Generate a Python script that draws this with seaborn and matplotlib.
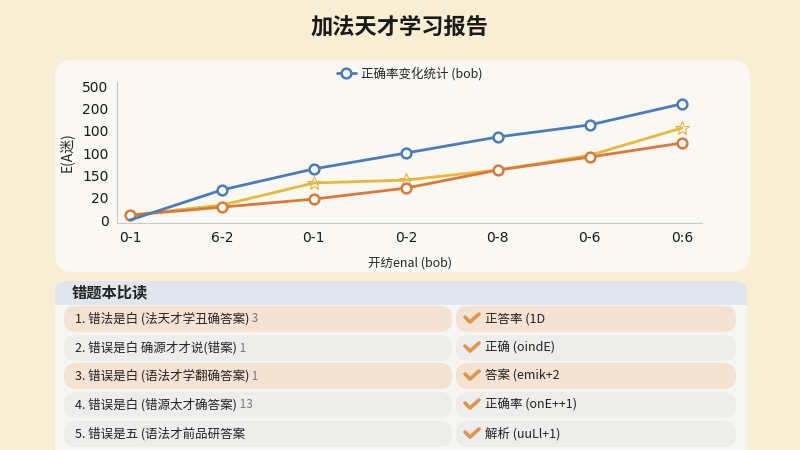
import seaborn as sns
import matplotlib.pyplot as plt
from matplotlib.patches import FancyBboxPatch

sns.set_style('white')
plt.rcParams['font.family'] = ['Noto Sans CJK SC', 'DejaVu Sans']

# chart data (values in y-tick units, as drawn)
x_labels = ['0-1', '6-2', '0-1', '0-2', '0-8', '0-6', '0:6']
y_labels = ['0', '20', '150', '100', '100', '200', '500']
blue_vals = [0.0, 1.35, 2.29, 3.0, 3.72, 4.26, 5.2]
yellow_vals = [0.22, 0.67, 1.66, 1.79, 2.24, 2.9, 4.12]
orange_vals = [0.22, 0.58, 0.94, 1.43, 2.24, 2.82, 3.45]

title = '加法天才学习报告'
legend_label = '正确率变化统计 (bob)'
x_title = '开纺enal (bob)'
y_title = 'E(A迷)'

list_title = '错题本比读'
left_items = ['1. 错法是白 (法天才学丑确答案)', '2. 错误是白 确源才才说(错案)',
              '3. 错误是白 (语法才学翻确答案)', '4. 错误是白 (错源太才确答案)',
              '5. 错误是五 (语法才前品研答案']
left_counts = ['3', '1', '1', '13', '']
right_items = ['正答率 (1D', '正确 (oindE)', '答案 (emik+2', '正确率 (onE++1)', '解析 (uuLl+1)']

fig = plt.figure(figsize=(8, 4.5), dpi=100)
fig.patch.set_facecolor('#f7eed3')

# background layer in pixel coordinates
bg = fig.add_axes([0, 0, 1, 1], zorder=0)
bg.set_xlim(0, 800)
bg.set_ylim(450, 0)
bg.axis('off')


def box(x, y, w, h, color, r=10):
    bg.add_patch(FancyBboxPatch((x + r, y + r), w - 2 * r, h - 2 * r,
                                boxstyle='round,pad=%d' % r, fc=color, ec='none'))


box(55, 60, 695, 212, '#f9f8f3', r=18)
box(55, 281, 692, 190, '#f6f6f3', r=14)
box(55, 281, 692, 24, '#dfe6ee', r=12)
bg.add_patch(plt.Rectangle((55, 295), 692, 10, fc='#dfe6ee', ec='none'))

bg.text(400, 27, title, ha='center', va='center', fontsize=16, fontweight='bold', color='#1a1a1a')
bg.text(72, 292, list_title, ha='left', va='center', fontsize=11, fontweight='bold', color='#222')

row_y = [319, 348, 376, 405, 434]
row_colors = ['#f4e2d2', '#ededeb', '#f4e2d2', '#ededeb', '#ededeb']
for i, yc in enumerate(row_y):
    box(64, yc - 13, 388, 26, row_colors[i], r=12)
    box(456, yc - 13, 280, 26, row_colors[i], r=12)
    t = bg.text(75, yc, left_items[i], ha='left', va='center', fontsize=9,
                fontweight='medium', color='#222')
    bg.annotate(' ' + left_counts[i], xycoords=t, xy=(1, 0.5), va='center',
                fontsize=8.5, color='#777')
    # check mark
    bg.plot([465, 470, 479], [yc - 2, yc + 3, yc - 5], color='#e0964a', lw=2.6,
            solid_capstyle='round', solid_joinstyle='round')
    bg.text(485, yc, right_items[i], ha='left', va='center', fontsize=9,
            fontweight='medium', color='#222')

# line chart
ax = fig.add_axes([117 / 800, 1 - 223 / 450, 585 / 800, 141 / 450], zorder=2)
ax.set_facecolor('none')
xs = list(range(len(x_labels)))
sns.lineplot(x=xs, y=yellow_vals, ax=ax, color='#e8b83c', linewidth=2,
             marker='*', markersize=10, markerfacecolor='none', markeredgecolor='#e3b040',
             markevery=[2, 3, 6])
sns.lineplot(x=xs, y=orange_vals, ax=ax, color='#d97a3a', linewidth=2,
             marker='o', markersize=7, markerfacecolor='white', markeredgewidth=1.8,
             markeredgecolor='#d97a3a')
sns.lineplot(x=xs, y=blue_vals, ax=ax, color='#4b7cb9', linewidth=2,
             marker='o', markersize=7, markerfacecolor='white', markeredgewidth=1.8,
             markeredgecolor='#4b7cb9', markevery=list(range(1, 7)), label=legend_label)

ax.set_xlim(-0.14, 6.22)
ax.set_ylim(-0.13, 6.18)
ax.set_xticks(xs)
ax.set_xticklabels(x_labels, fontsize=10, family=['DejaVu Sans'], color='#1a1a1a')
ax.set_yticks(range(len(y_labels)))
ax.set_yticklabels(y_labels, fontsize=10, family=['DejaVu Sans'], color='#1a1a1a')
ax.tick_params(length=0, pad=6)
for s in ['top', 'right']:
    ax.spines[s].set_visible(False)
for s in ['left', 'bottom']:
    ax.spines[s].set_color('#c8c8c8')
ax.set_xlabel(x_title, fontsize=9, labelpad=8, fontweight='medium')
ax.set_ylabel(y_title, fontsize=10, labelpad=6, fontweight='medium')
ax.legend(loc='center', bbox_to_anchor=(0.5, 1.06), frameon=False, fontsize=9,
          handlelength=1.5, handletextpad=0.4)

fig.savefig('out.png', dpi=100)
